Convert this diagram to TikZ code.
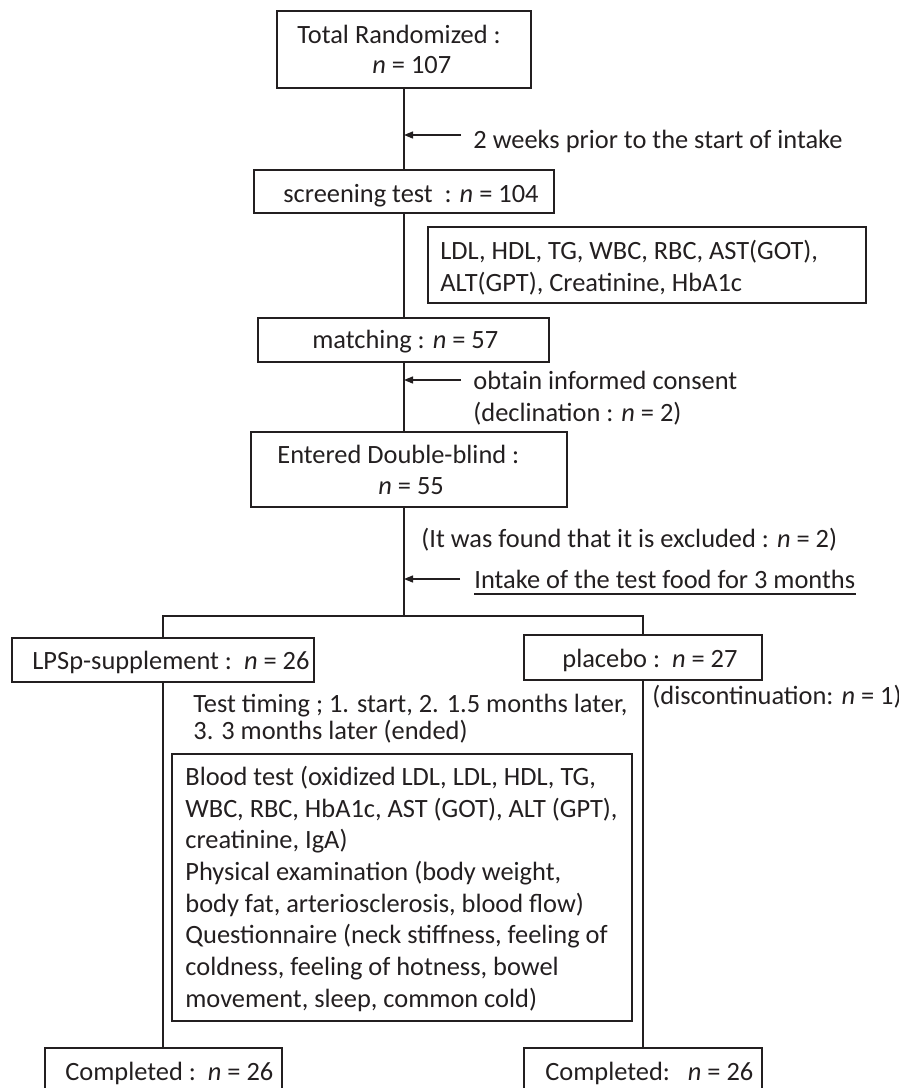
\documentclass[tikz,border=0pt]{standalone}
\usepackage{fontspec}
\setmainfont{Carlito}
\usetikzlibrary{arrows.meta,fit}
\definecolor{ink}{RGB}{35,31,32}
\newcommand\firstln{\rule{0pt}{11pt}}
\begin{document}
\begin{tikzpicture}[x=0.5pt,y=-0.5pt,
  font=\fontsize{13.2}{15.85}\selectfont,
  box/.style={draw=ink, line width=0.65pt, inner sep=0pt, rectangle},
  txt/.style={inner sep=0pt, anchor=base west, text=ink},
  mtxt/.style={inner sep=0pt, anchor=north west, align=left, text=ink},
  conn/.style={draw=ink, line width=0.65pt},
  arr/.style={draw=ink, line width=0.65pt, -{Triangle[length=4.5pt,width=3.5pt]}}]
\useasboundingbox (0,0) rectangle (899,1088);

% boxes
\node[box, fit={(277,11) (531,88)}] (total) {};
\node[box, fit={(254,170) (554,213)}] (screen) {};
\node[box, fit={(428,227) (866,303)}] (ldl) {};
\node[box, fit={(258,318) (549,362)}] (match) {};
\node[box, fit={(251,432) (567,507)}] (entered) {};
\node[box, fit={(12,638) (314,682)}] (lpsp) {};
\node[box, fit={(524,635) (762,680)}] (placebo) {};
\node[box, fit={(172,754) (632,1021)}] (blood) {};
\node[box, fit={(45,1048) (282,1100)}] (comp1) {};
\node[box, fit={(524,1048) (762,1100)}] (comp2) {};

% texts
\node[txt] (totaltxt) at (297,43) {Total Randomized :};
\node[txt] (totaln) at (372,73) {\textit{n} = 107};
\node[txt] (weeks) at (473,148) {2 weeks prior to the start of intake};
\node[txt] (screentxt) at (283,202) {screening test\ \ : \textit{n} = 104};
\node[mtxt, font=\fontsize{13.2}{16}\selectfont] (ldltxt) at (440,237) {\firstln LDL, HDL, TG, WBC, RBC, AST(GOT),\\ALT(GPT), Creatinine, HbA1c};
\node[txt] (matchtxt) at (312,348) {matching\ : \textit{n} = 57};
\node[mtxt, font=\fontsize{13.2}{16}\selectfont] (consent) at (473,367) {\firstln obtain informed consent\\(declination : \textit{n} = 2)};
\node[txt] (enteredtxt) at (277,463) {Entered Double-blind :};
\node[txt] (enteredn) at (378,494) {\textit{n} = 55};
\node[txt] (excluded) at (421,547) {(It was found that it is excluded : \textit{n} = 2)};
\node[txt] (intake) at (474,588) {Intake of the test food for 3 months};
\node[txt] (lpsptxt) at (32,669) {LPSp-supplement :\ \ \textit{n} = 26};
\node[txt] (placebotxt) at (562,667) {placebo\ :\ \ \textit{n} = 27};
\node[txt] (discont) at (652,704) {(discontinuation: \textit{n} = 1)};
\node[mtxt, font=\fontsize{13.2}{13.35}\selectfont] (timing) at (193,690) {\firstln Test timing ; 1. start, 2. 1.5 months later,\\3. 3 months later (ended)};
\node[mtxt] (bloodtxt) at (185,763) {\firstln Blood test (oxidized LDL, LDL, HDL, TG,\\WBC, RBC, HbA1c, AST (GOT), ALT (GPT),\\creatinine, IgA)\\Physical examination (body weight,\\body fat, arteriosclerosis, blood flow)\\Questionnaire (neck stiffness, feeling of\\coldness, feeling of hotness, bowel\\movement, sleep, common cold)};
\node[txt] (comp1txt) at (65,1080) {Completed :\ \ \textit{n} = 26};
\node[txt] (comp2txt) at (545,1080) {Completed:\ \ \ \textit{n} = 26};

\draw[ink, line width=0.6pt] ([yshift=-3pt]intake.base west) -- ([yshift=-3pt]intake.base east);

% connectors
\coordinate (spine) at (404,0);
\coordinate (split) at (404,616);
\draw[conn] (spine |- total.south) -- (spine |- screen.north);
\draw[conn] (spine |- screen.south) -- (spine |- match.north);
\draw[conn] (spine |- match.south) -- (spine |- entered.north);
\draw[conn] (spine |- entered.south) -- (split);
\draw[conn] (lpsp.north) |- (split) -| (placebo.north);
\draw[conn] (lpsp.south) -- (lpsp.south |- comp1.north);
\draw[conn] (placebo.south) -- (placebo.south |- comp2.north);

% side arrows
\coordinate (a1s) at (461,135);
\coordinate (a2s) at (461,380);
\coordinate (a3s) at (460,579);
\draw[arr] (a1s) -- (spine |- a1s);
\draw[arr] (a2s) -- (spine |- a2s);
\draw[arr] (a3s) -- (spine |- a3s);
\end{tikzpicture}
\end{document}
